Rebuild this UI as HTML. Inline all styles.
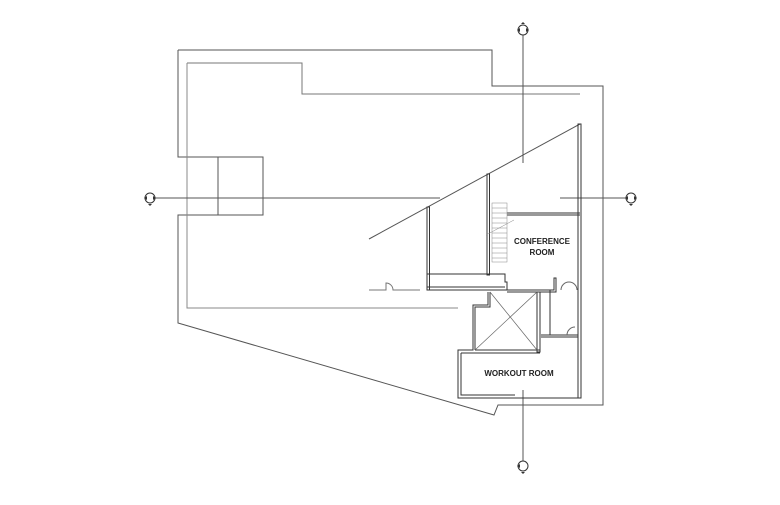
<!DOCTYPE html>
<html><head><style>body{margin:0;background:#fff}svg{display:block}</style></head><body>
<svg width="780" height="505" viewBox="0 0 780 505" xmlns="http://www.w3.org/2000/svg">
<g fill="none" stroke="#555" stroke-width="1">
<polyline points="178,50 492,50 492,86 603,86 603,405 498,405 494,415 178,323 178,215 263,215 263,157 178,157 178,50"/>
<polyline points="187,63 302,63 302,94 580,94" stroke="#777"/>
<polyline points="187,63 187,308 458,308" stroke="#888"/>
<line x1="218" y1="157" x2="218" y2="215"/>
<line x1="150" y1="198" x2="440" y2="198"/>
<line x1="560" y1="198" x2="626" y2="198"/>
<line x1="523" y1="32" x2="523" y2="163"/>
<line x1="523" y1="390" x2="523" y2="462"/>
<line x1="580" y1="124" x2="369" y2="239"/>
</g>
<g fill="none" stroke="#333" stroke-width="1">
<rect x="578" y="124" width="3" height="274"/>
<rect x="427" y="207" width="2.5" height="83"/>
<rect x="487" y="174" width="2.5" height="101"/>
<polyline points="427,274 505,274 505,282 507,282 507,290 427,290"/>
<polyline points="427,287 505,287"/>
<line x1="507" y1="213" x2="580" y2="213"/>
<line x1="507" y1="215" x2="580" y2="215"/>
<polyline points="507,290 554,290 554,278 556,278 556,292 507,292"/>
<polyline points="488,292 488,305 473,305 473,350 458,350 458,398 580,398"/>
<polyline points="490,292 490,307 475,307 475,350"/>
<polyline points="461,353 461,395 515,395"/>
<rect x="537" y="292" width="3" height="60"/>
<line x1="475" y1="350" x2="540" y2="350"/>
<line x1="461" y1="353" x2="540" y2="353"/>
<line x1="490" y1="292" x2="537" y2="350" stroke="#666" stroke-width="0.7"/>
<line x1="537" y1="292" x2="475" y2="350" stroke="#666" stroke-width="0.7"/>
<line x1="550" y1="290" x2="550" y2="335"/>
<line x1="541" y1="335" x2="578" y2="335"/>
<line x1="541" y1="337" x2="578" y2="337"/>
<path d="M369 290 H386 V283 A7 7 0 0 1 393 290 H420" stroke="#777"/>
<path d="M561 290 A8 8 0 0 1 569 282 A8 8 0 0 1 577 290" stroke="#666"/>
<path d="M567 335 A8 8 0 0 1 575 327" stroke="#666"/>
</g>
<g stroke="#888" stroke-width="0.5" fill="none">
<rect x="492" y="203" width="15" height="59"/>
<line x1="492" y1="208" x2="507" y2="208"/><line x1="492" y1="213" x2="507" y2="213"/><line x1="492" y1="218" x2="507" y2="218"/><line x1="492" y1="223" x2="507" y2="223"/><line x1="492" y1="228" x2="507" y2="228"/><line x1="492" y1="233" x2="507" y2="233"/><line x1="492" y1="238" x2="507" y2="238"/><line x1="492" y1="243" x2="507" y2="243"/><line x1="492" y1="248" x2="507" y2="248"/><line x1="492" y1="253" x2="507" y2="253"/><line x1="492" y1="258" x2="507" y2="258"/>
<line x1="486" y1="235" x2="514" y2="220"/>
</g>
<g fill="#fff" stroke="#333" stroke-width="1">
<circle cx="150" cy="198" r="5"/><circle cx="631" cy="198" r="5"/><circle cx="523" cy="30" r="5"/><circle cx="523" cy="466" r="5"/>
</g>
<g fill="#333">
<path d="M144 198 l3 -2 v4z M156 198 l-3 -2 v4z M148 204 h4 l-2 2z"/>
<path d="M625 198 l3 -2 v4z M637 198 l-3 -2 v4z M629 204 h4 l-2 2z"/>
<path d="M517 30 l3 -2 v4z M529 30 l-3 -2 v4z M521 24 h4 l-2 -2z"/>
<path d="M517 466 l3 -2 v4z M521 472 h4 l-2 2z"/>
</g>
<g font-family="Liberation Sans, sans-serif" font-weight="bold" font-size="8" fill="#222" text-anchor="middle">
<text x="542" y="244">CONFERENCE</text>
<text x="542" y="255">ROOM</text>
<text x="519" y="376">WORKOUT ROOM</text>
</g>
</svg>
</body></html>
